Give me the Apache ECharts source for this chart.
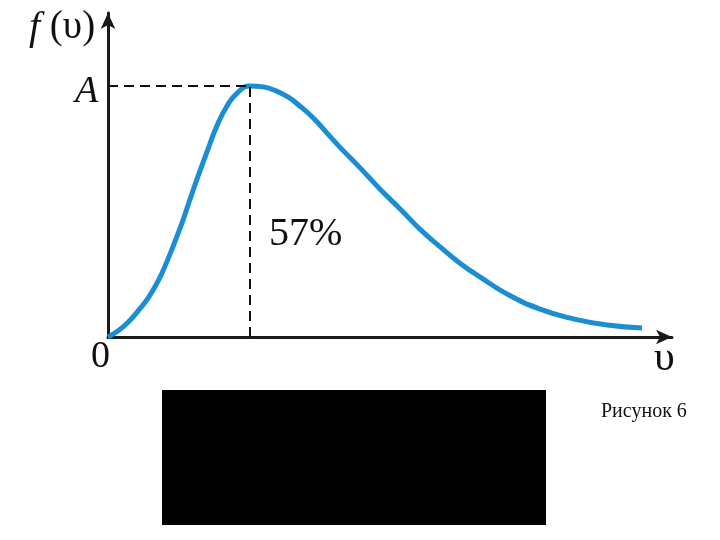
<!DOCTYPE html>
<html>
<head>
<meta charset="utf-8">
<script src="https://cdn.jsdelivr.net/npm/echarts@6/dist/echarts.min.js"></script>
<style>
  html, body { margin: 0; padding: 0; background: #fff; }
  #chart { width: 720px; height: 540px; }
</style>
</head>
<body>
<div id="chart"></div>
<script>
// speed (arbitrary units) and f(v) values
const speeds = [0, 1.8, 3.6, 5.3, 7.1, 8.9, 10.5, 11.9, 13.3, 14.5, 15.8, 17.6, 19.3, 21.1, 22.9, 25.2, 27.5, 29.6, 31.9, 34.0, 36.4, 38.8, 41.1, 44.7, 48.2, 51.8, 55.3, 58.9, 62.4, 66.0, 70.7, 76.6, 82.5, 88.5, 94.7]
const fValues = [0, 1.9, 4.6, 8.0, 12.0, 17.3, 23.5, 29.6, 36.1, 42.3, 48.8, 57.4, 65.1, 71.3, 75.3, 77.5, 77.2, 76.1, 74.1, 71.3, 67.6, 63.0, 58.6, 52.2, 45.7, 39.5, 33.3, 27.8, 22.8, 18.5, 13.3, 8.6, 5.6, 3.7, 2.8]
const peakSpeed = 25.2
const peakValue = 77.5
const yTickLabel = 'A'
const originLabel = '0'
const shareLabel = '57%'
const caption = 'Рисунок 6'

const serif = '"Liberation Serif", "Times New Roman", serif'
const chart = echarts.init(document.getElementById('chart'))

chart.setOption({
  animation: false,
  backgroundColor: '#fff',
  grid: { left: 108, right: 48, top: 13, bottom: 203 },
  xAxis: {
    type: 'value',
    min: 0,
    max: 100,
    axisLine: { lineStyle: { color: '#1a1a1a', width: 3 }, symbol: ['none', 'arrow'], symbolSize: [11, 16] },
    axisTick: { show: false },
    axisLabel: { show: false },
    splitLine: { show: false }
  },
  yAxis: {
    type: 'value',
    min: 0,
    max: 100,
    axisLine: { show: true, lineStyle: { color: '#1a1a1a', width: 3 }, symbol: ['none', 'arrow'], symbolSize: [11, 16] },
    axisTick: { show: false },
    axisLabel: { show: false },
    splitLine: { show: false }
  },
  series: [
    {
      type: 'line',
      data: speeds.map((v, i) => [v, fValues[i]]),
      smooth: 0.5,
      showSymbol: false,
      lineStyle: { color: '#1b8dd2', width: 5 },
      markLine: {
        silent: true,
        symbol: 'none',
        label: { show: false },
        lineStyle: { color: '#111', type: [10, 6], width: 2 },
        data: [
          [{ coord: [0, peakValue] }, { coord: [peakSpeed, peakValue] }],
          [{ coord: [peakSpeed, 0] }, { coord: [peakSpeed, peakValue] }]
        ]
      },
      z: 3
    }
  ],
  graphic: [
    {
      type: 'text', left: 29, top: 8,
      style: {
        text: '{i|f} (υ)',
        rich: { i: { fontStyle: 'italic', fontFamily: serif, fontSize: 40, fill: '#111' } },
        font: '39px ' + serif, fill: '#111'
      }
    },
    {
      type: 'text', left: 75, top: 73,
      style: { text: yTickLabel, font: 'italic 38px ' + serif, fill: '#111' }
    },
    {
      type: 'text', left: 91, top: 338,
      style: { text: originLabel, font: '38px ' + serif, fill: '#111' }
    },
    {
      type: 'text', left: 654, top: 338,
      style: { text: 'υ', font: '42px ' + serif, fill: '#111' }
    },
    {
      type: 'text', left: 269, top: 214,
      style: { text: shareLabel, font: '40px ' + serif, fill: '#111' }
    },
    {
      type: 'rect', shape: { x: 162, y: 390, width: 384, height: 135 },
      style: { fill: '#000' }
    },
    {
      type: 'text', left: 601, top: 402,
      style: { text: caption, font: '20px ' + serif, fill: '#111' }
    }
  ]
})
</script>
</body>
</html>
